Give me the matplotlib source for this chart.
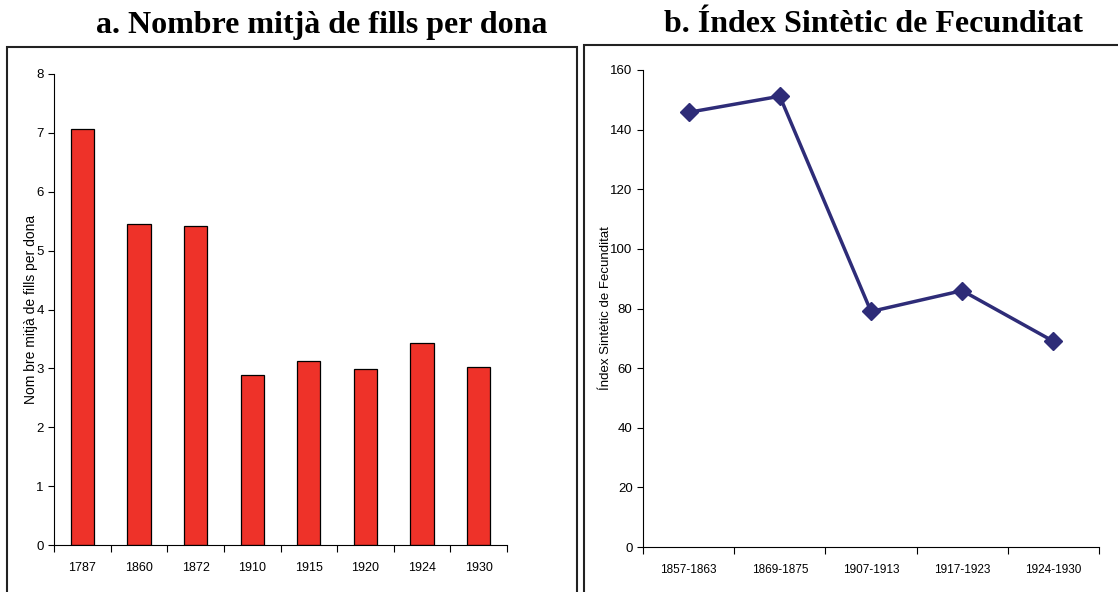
import matplotlib.pyplot as plt
import numpy as np
from matplotlib.patches import Rectangle

anys = ['1787', '1860', '1872', '1910', '1915', '1920', '1924', '1930']
fills = [7.07, 5.46, 5.41, 2.88, 3.13, 2.99, 3.43, 3.02]

periodes = ['1857-1863', '1869-1875', '1907-1913', '1917-1923', '1924-1930']
isf = [145.8, 151.2, 79.0, 86.0, 69.0]

plt.rcParams['font.family'] = ['Liberation Sans', 'DejaVu Sans']

W, H = 1118, 592
fig = plt.figure(figsize=(W / 100, H / 100), dpi=100)

def box(x0, y0, x1, y1):
    return [x0 / W, 1 - y1 / H, (x1 - x0) / W, (y1 - y0) / H]

# panel frames
fig.patches.append(Rectangle((7 / W, -0.01), (577 - 7) / W, 1 - 47 / H + 0.01,
                             transform=fig.transFigure, fill=False,
                             edgecolor='#222222', linewidth=1.5))
fig.patches.append(Rectangle((584 / W, -0.01), (1130 - 584) / W, 1 - 45 / H + 0.01,
                             transform=fig.transFigure, fill=False,
                             edgecolor='#222222', linewidth=1.5))

title_font = dict(family='Liberation Serif', fontsize=23, fontweight='bold')
fig.text(322 / W, 1 - 25 / H, 'a. Nombre mitjà de fills per dona',
         ha='center', va='center', **title_font)
fig.text(873 / W, 1 - 25 / H, 'b. Índex Sintètic de Fecunditat',
         ha='center', va='center', **title_font)

# a. bars
ax1 = fig.add_axes(box(54, 74, 507, 545))
x = np.arange(len(anys))
ax1.bar(x, fills, width=0.41, color='#EE3229', edgecolor='black', linewidth=0.9)
ax1.set_xlim(-0.5, len(anys) - 0.5)
ax1.set_ylim(0, 8)
ax1.set_yticks(range(0, 9))
ax1.set_xticks(x)
ax1.set_xticklabels(anys, fontsize=9)
ax1.set_xticks(np.arange(-0.5, len(anys)), minor=True)
ax1.tick_params(axis='x', which='major', length=0, pad=12)
ax1.tick_params(axis='x', which='minor', length=5, width=0.8)
ax1.tick_params(axis='y', labelsize=9.5, length=4, width=0.8)
ax1.set_ylabel('Nom bre mitjà de fills per dona', fontsize=10)
ax1.yaxis.set_label_coords(-0.036, 0.5)
for s in ['top', 'right']:
    ax1.spines[s].set_visible(False)

# b. line
ax2 = fig.add_axes(box(643, 70, 1099, 547))
x2 = np.arange(len(periodes))
ax2.plot(x2, isf, color='#2E2C78', linewidth=2.5, marker='D', markersize=9)
ax2.set_xlim(-0.5, len(periodes) - 0.5)
ax2.set_ylim(0, 160)
ax2.set_yticks(range(0, 161, 20))
ax2.set_xticks(x2)
ax2.set_xticklabels(periodes, fontsize=8.5)
ax2.set_xticks(np.arange(-0.5, len(periodes)), minor=True)
ax2.tick_params(axis='x', which='major', length=0, pad=12)
ax2.tick_params(axis='x', which='minor', length=5, width=0.8)
ax2.tick_params(axis='y', labelsize=9.5, length=4, width=0.8)
ax2.set_ylabel('Índex Sintètic de Fecunditat', fontsize=9.5)
ax2.yaxis.set_label_coords(-0.068, 0.5)
for s in ['top', 'right']:
    ax2.spines[s].set_visible(False)

fig.savefig('out.png', dpi=100)
